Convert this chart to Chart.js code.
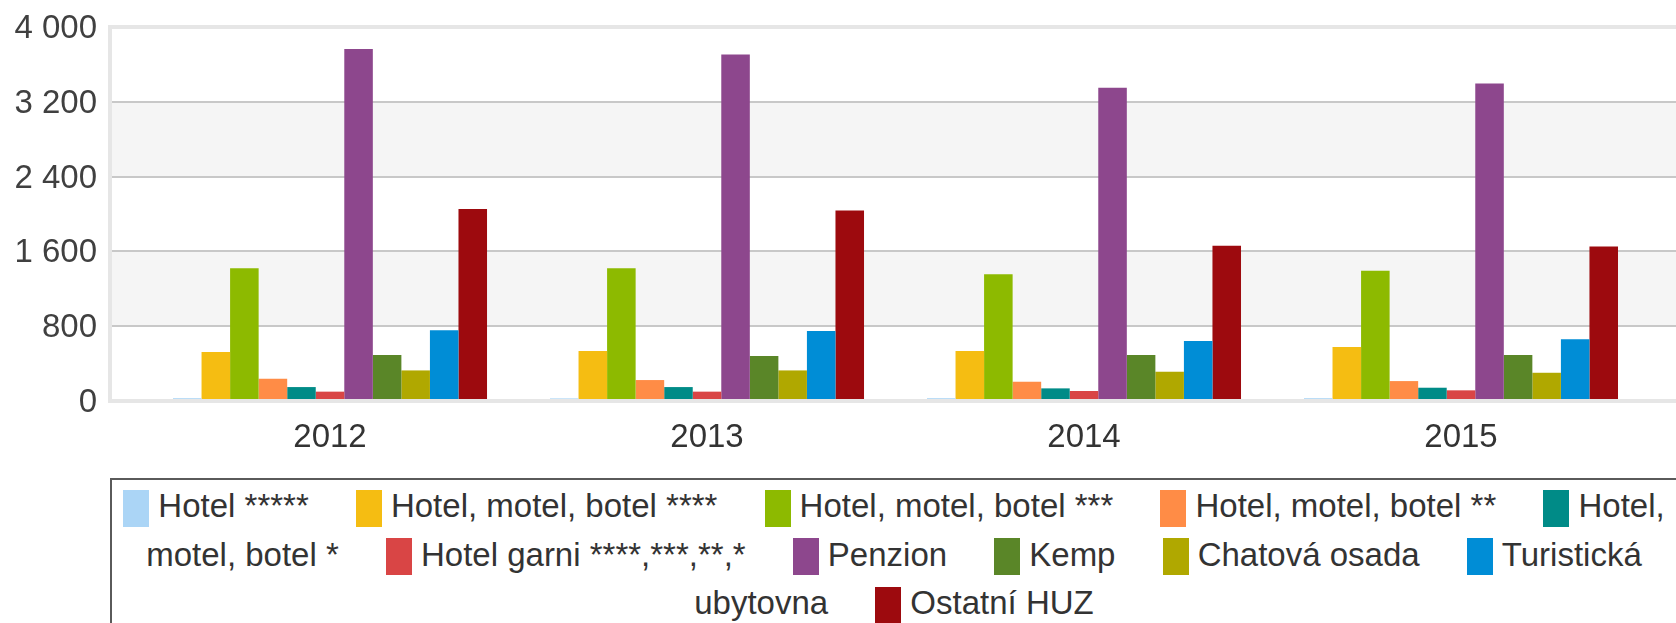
<!DOCTYPE html>
<html>
<head>
<meta charset="utf-8">
<script src="https://cdn.jsdelivr.net/npm/chart.js@4.4.1/dist/chart.umd.min.js"></script>
<style>
  html, body { margin: 0; padding: 0; background: #fff; overflow: hidden; width: 1676px; height: 623px; }
  #wrap { position: absolute; left: 0; top: 0; width: 1690px; height: 470px; }
  #legend {
    position: absolute; left: 110px; top: 478px; width: 1558px;
    border: 2px solid #5a5a5a; padding: 2px 10px 0 3px;
    font: 33px "Liberation Sans", Arial, sans-serif; line-height: 48.5px;
    color: #333; text-align: center;
  }
  .item .sw { display: inline-block; width: 26px; height: 37px; margin-right: 9px; vertical-align: middle; }
  .item + .item .sw { margin-left: 38px; }
</style>
</head>
<body>
<div id="wrap"><canvas id="chart"></canvas></div>
<div id="legend"></div>
<script>
const years = ["2012", "2013", "2014", "2015"];
const yTicks = [0, 800, 1600, 2400, 3200, 4000];

const seriesNames = [
  "Hotel *****",
  "Hotel, motel, botel ****",
  "Hotel, motel, botel ***",
  "Hotel, motel, botel **",
  "Hotel, motel, botel *",
  "Hotel garni ****,***,**,*",
  "Penzion",
  "Kemp",
  "Chatová osada",
  "Turistická ubytovna",
  "Ostatní HUZ"
];
const seriesColors = [
  "#abd5f6", "#f5bd12", "#8dba00", "#ff8c46", "#008b87", "#d94545",
  "#8d478d", "#5a8628", "#b0a800", "#008dd6", "#9d0a0e"
];

const hotel5 = [30, 28, 30, 30];
const hotel4 = [525, 535, 535, 578];
const hotel3 = [1420, 1420, 1356, 1392];
const hotel2 = [238, 224, 206, 213];
const hotel1 = [149, 149, 135, 142];
const hotelGarni = [100, 100, 107, 114];
const penzion = [3765, 3705, 3350, 3395];
const kemp = [491, 480, 491, 491];
const chatova = [327, 327, 313, 302];
const turisticka = [756, 749, 642, 660];
const ostatni = [2054, 2037, 1660, 1653];

const series = [hotel5, hotel4, hotel3, hotel2, hotel1, hotelGarni, penzion, kemp, chatova, turisticka, ostatni];

// light bands between every other pair of gridlines
const bands = [[800, 1600], [2400, 3200]];

Chart.defaults.font.family = '"Liberation Sans", Arial, sans-serif';
Chart.defaults.font.size = 33;

const fmt = v => String(v).replace(/\B(?=(\d{3})+(?!\d))/g, " ");

const bandPlugin = {
  id: "bands",
  beforeDraw(chart) {
    const { ctx, chartArea: a, scales: { y } } = chart;
    ctx.save();
    ctx.fillStyle = "#f5f5f5";
    bands.forEach(([lo, hi]) => {
      const top = y.getPixelForValue(hi);
      const bot = y.getPixelForValue(lo);
      ctx.fillRect(a.left, top, a.right - a.left, bot - top);
    });
    ctx.restore();
  }
};

const chart = new Chart(document.getElementById("chart"), {
  type: "bar",
  data: {
    labels: years,
    datasets: seriesNames.map((name, i) => ({
      label: name,
      data: series[i].map((v, j) => ({ x: j, y: v })),
      backgroundColor: seriesColors[i],
      borderWidth: 0,
      categoryPercentage: 0.833,
      barPercentage: 1
    }))
  },
  options: {
    responsive: true,
    maintainAspectRatio: false,
    animation: false,
    layout: { padding: { top: 27, right: 9, left: 0, bottom: 0 } },
    plugins: {
      legend: { display: false },
      tooltip: { enabled: false }
    },
    scales: {
      x: {
        type: "linear",
        min: -0.5836,
        max: 3.5836,
        offset: false,
        grid: { display: false, drawTicks: false },
        border: { display: true, color: "#e6e6e6", width: 4 },
        afterBuildTicks: s => { s.ticks = years.map((_, i) => ({ value: i })); },
        afterFit: s => { s.height = 69; s.paddingLeft = 0; s.paddingRight = 0; },
        ticks: {
          callback: v => years[v],
          color: "#333",
          padding: 17,
          maxRotation: 0,
          autoSkip: false
        }
      },
      y: {
        min: 0,
        max: 4000,
        afterBuildTicks: s => { s.ticks = yTicks.map(v => ({ value: v })); },
        afterFit: s => { s.width = 110; s.paddingTop = 0; s.paddingBottom = 0; },
        grid: {
          drawTicks: false,
          color: c => (c.tick && (c.tick.value === 0 || c.tick.value === 4000)) ? "#e6e6e6" : "#c8c8c8",
          lineWidth: c => (c.tick && (c.tick.value === 0 || c.tick.value === 4000)) ? 4 : 2
        },
        border: { display: true, color: "#e6e6e6", width: 4 },
        ticks: {
          color: "#404040",
          padding: 13,
          labelOffset: 2,
          callback: v => fmt(v)
        }
      }
    }
  },
  plugins: [bandPlugin]
});

// HTML LEGEND (wraps like the original)
const box = document.getElementById("legend");
box.innerHTML = chart.data.datasets.map(ds =>
  `<span class="item"><span class="sw" style="background:${ds.backgroundColor}"></span>${ds.label}</span>`
).join(" ");
</script>
</body>
</html>
